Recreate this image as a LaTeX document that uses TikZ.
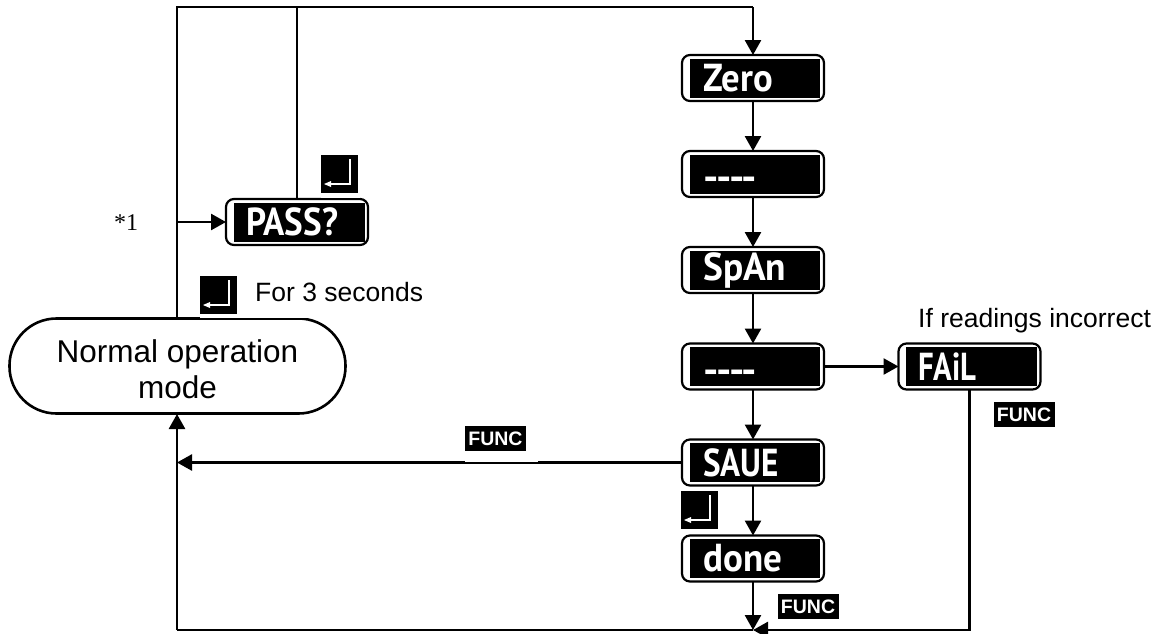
\documentclass[tikz,border=0pt]{standalone}
\usepackage{fontspec}
\usepackage{graphicx}
\setmainfont{Liberation Sans}
\newfontfamily\dispfont{PT Sans}
\newfontfamily\noteserif{Liberation Serif}
\usetikzlibrary{arrows.meta}
\tikzset{
  line/.style={line width=2.6pt,black},
  arr/.style={line width=2.6pt,black,-{Triangle[length=15pt,width=16pt]}},
  dispbox/.style={draw,line width=2.2pt,fill=white,rounded corners=8pt,minimum width=142pt,minimum height=46pt,inner sep=0pt,outer sep=0pt},
  dispfill/.style={fill=black,inner sep=0pt,outer sep=0pt,minimum width=130pt,minimum height=39pt},
  disptext/.style={text=white,inner sep=0pt,anchor=west,font=\dispfont\bfseries\fontsize{39pt}{39pt}\selectfont},
  funckey/.style={fill=black,text=white,inner sep=0pt,minimum width=61pt,minimum height=25pt,font=\bfseries\fontsize{19.5pt}{19.5pt}\selectfont},
  keybox/.style={fill=black,inner sep=0pt,minimum width=37pt,minimum height=38pt},
  label/.style={inner sep=0pt,anchor=base west,font=\fontsize{26.5pt}{30pt}\selectfont},
  mask/.style={fill=white,draw=none}
}
\newcommand{\dispunit}[7]{% name, outer x centre, y centre, text, inner-width, text left, horizontal scale
  \node[dispbox] (#1) at (#2,#3) {};
  \node[dispfill,minimum width=#5pt] (#1-i) at (#2+2,#3) {};
  \node[disptext] (#1-t) at (#6,#3) {\scalebox{#7}[1]{#4}};
}
\newcommand{\dashunit}[3]{% name, outer x centre, y centre
  \node[dispbox] (#1) at (#2,#3) {};
  \node[dispfill] (#1-i) at (#2+2,#3) {};
  \node[disptext] (#1-t) at (703,#3+10) {\scalebox{1.1}[1]{----}};
}
\newcommand{\enterkey}[3]{% name, left, top
  \node[keybox,anchor=north west] (#1) at (#2,#3) {};
  \draw[white,line width=1.6pt] (#2+29,#3+4) -- (#2+29,#3+29) -- (#2+9,#3+29);
  \fill[white] (#2+3,#3+29) -- (#2+10,#3+26) -- (#2+10,#3+32) -- cycle;
}
\begin{document}
\begin{tikzpicture}[x=1pt,y=-1pt]
\useasboundingbox (0,0) rectangle (1157,633);
% main mode
\node[draw,line width=2.6pt,fill=white,rounded corners=47pt,minimum width=336pt,minimum height=95pt,inner sep=0pt,outer sep=0pt] (normal) at (177.5,366) {};
\node[inner sep=0pt,align=center,font=\fontsize{31.5pt}{36pt}\selectfont] (normal-t) at (177.5,369) {Normal operation\\mode};
% coordinates
\coordinate (tl) at (177,7);
\coordinate (tm) at (297,7);
\coordinate (tr) at (753,7);
\coordinate (bl) at (177,630);
\coordinate (bm) at (753,630);
\coordinate (br) at (969.5,630);
\coordinate (jp) at (177,222);
\coordinate (js) at (177,462.5);
\coordinate (nb) at (177,414);
\coordinate (nt) at (177,318);
% label clipped by the white band above the FAiL box
\node[label] (incorrect) at (918,327) {If readings incorrect};
\fill[mask] (900,333) rectangle (1157,341);
% display boxes
\dispunit{zero}{753}{78}{Zero}{130}{703}{.94}
\dashunit{dashA}{753}{174}
\dispunit{span}{753}{270}{SpAn}{130}{703}{.96}
\dashunit{dashB}{753}{366.5}
\dispunit{save}{753}{462.5}{SAUE}{130}{703}{.85}
\dispunit{done}{753}{558.5}{done}{130}{703}{.95}
\dispunit{fail}{969.5}{366.5}{FAiL}{131}{918}{.79}
\dispunit{pass}{297}{222}{PASS?}{131}{246}{.90}
% connectors
\draw[line] (nt) -- (tl) -- (tr);
\draw[line] (pass.north) -- (tm);
\draw[arr] (tr) -- (zero.north);
\draw[arr] (jp) -- (pass.west);
\draw[arr] (zero) -- (dashA);
\draw[arr] (dashA) -- (span);
\draw[arr] (span) -- (dashB);
\draw[arr] (dashB) -- (save);
\draw[arr] (save) -- (done);
\draw[arr] (dashB) -- (fail);
\draw[arr] (done) -- (bm);
\draw[arr] (save) -- (js);
\draw[line] (bm) -- (bl);
\draw[arr] (bl) -- (nb);
\draw[arr] (fail.south) -- (br) -- (bm);
% thin notches under the keys
\fill[mask] (465,460) rectangle (538,462.4);
\fill[mask] (200,316) rectangle (312,317.7);
\fill[mask] (321,196) rectangle (360,197.7);
% keys
\enterkey{keyA}{321}{155}
\enterkey{keyB}{200}{276}
\enterkey{keyC}{681}{491}
\node[funckey] (funcA) at (495.5,438.5) {FUNC};
\node[funckey] (funcB) at (1024,414.5) {FUNC};
\node[funckey] (funcC) at (808,606.5) {FUNC};
% labels
\node[inner sep=0pt,anchor=west,font=\noteserif\fontsize{24pt}{24pt}\selectfont] (note) at (114,223) {*1};
\node[label] (for3) at (255,301.5) {For 3 seconds};
\end{tikzpicture}
\end{document}
